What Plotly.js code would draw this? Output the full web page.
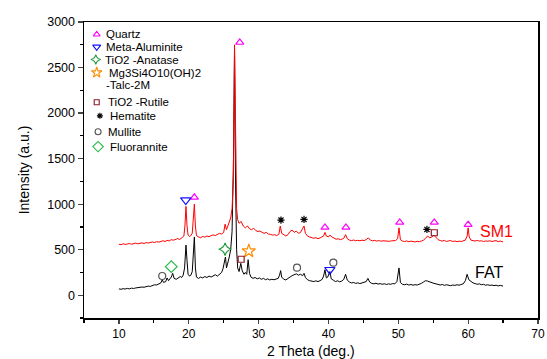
<!DOCTYPE html>
<html>
<head>
<meta charset="utf-8">
<script src="https://cdn.plot.ly/plotly-3.0.1.min.js"></script>
<style>html,body{margin:0;padding:0;background:#fff;}#chart{width:547px;height:359px;}</style>
</head>
<body>
<div id="chart"></div>
<script>
// ---- SM1 pattern (red) ----
const smX = [10,10.3,10.6,10.9,11.2,11.5,11.8,12.1,12.4,12.7,13.0,13.3,13.6,13.9,14.2,14.5,14.8,15.1,15.4,15.7,16.0,16.3,16.6,16.9,17.2,17.5,17.8,18.1,18.4,18.7,19.0,19.3,19.45,19.6,19.75,19.9,20.1,20.3,20.5,20.65,20.8,20.95,21.1,21.4,21.7,22.0,22.3,22.6,22.9,23.2,23.5,23.8,24.1,24.4,24.7,25.0,25.2,25.4,25.6,25.8,26.0,26.2,26.4,26.55,26.7,26.85,27.0,27.2,27.5,27.8,28.1,28.4,28.7,29.0,29.3,29.6,29.9,30.2,30.5,30.8,31.1,31.4,31.7,32.0,32.3,32.6,32.9,33.1,33.3,33.6,33.9,34.2,34.5,34.8,35.1,35.4,35.7,36.0,36.3,36.5,36.7,37.0,37.3,37.6,37.9,38.2,38.5,38.8,39.1,39.3,39.5,39.7,40.0,40.2,40.5,40.8,41.1,41.4,41.7,42.0,42.2,42.45,42.7,43.0,43.3,43.6,43.9,44.2,44.5,44.8,45.1,45.4,45.7,46.0,46.3,46.6,46.9,47.2,47.5,47.8,48.1,48.4,48.7,49.0,49.3,49.6,49.9,50.1,50.3,50.6,50.9,51.2,51.5,51.8,52.1,52.4,52.7,53.0,53.3,53.6,53.9,54.2,54.5,54.8,55.1,55.4,55.7,56.0,56.3,56.6,56.9,57.2,57.5,57.8,58.1,58.4,58.7,59.0,59.3,59.6,59.85,60.0,60.15,60.4,60.7,61.0,61.3,61.6,61.9,62.2,62.5,62.8,63.1,63.4,63.7,64.0,64.3,64.6,65.0];
const smY = [560,555,565,558,562,568,560,566,572,565,570,575,568,578,573,580,585,578,588,583,592,598,590,602,596,610,604,615,622,612,628,650,760,975,760,660,645,655,680,820,1000,760,655,640,632,645,638,650,643,655,662,655,670,680,672,690,780,720,760,800,850,950,1300,2750,1500,950,830,790,810,760,740,760,730,720,735,710,700,705,690,680,690,672,668,660,665,655,670,760,680,660,650,665,700,715,690,705,680,690,730,760,680,650,640,630,625,632,620,630,640,650,690,650,640,660,640,625,615,620,610,618,625,665,620,605,600,606,598,603,598,605,600,610,630,605,598,602,595,600,593,598,595,600,592,597,595,600,620,740,610,595,590,596,588,594,590,585,592,588,595,605,625,650,630,640,660,630,610,600,595,602,590,597,600,590,595,588,594,590,596,605,650,740,640,605,600,595,602,594,598,590,596,592,598,590,595,600,588,595,585];

// ---- FAT pattern (black) ----
const fatX = [10,10.3,10.6,10.9,11.2,11.5,11.8,12.1,12.4,12.7,13.0,13.3,13.6,13.9,14.2,14.5,14.8,15.1,15.4,15.7,16.0,16.2,16.4,16.7,16.9,17.1,17.3,17.5,17.7,17.9,18.2,18.5,18.8,19.0,19.2,19.4,19.6,19.75,19.9,20.1,20.3,20.5,20.65,20.8,20.95,21.1,21.4,21.7,22.0,22.3,22.6,22.9,23.2,23.5,23.8,24.1,24.4,24.7,24.9,25.1,25.25,25.4,25.6,25.8,26.0,26.2,26.4,26.55,26.7,26.85,27.0,27.2,27.45,27.65,27.9,28.1,28.3,28.5,28.7,28.9,29.2,29.5,29.8,30.1,30.4,30.7,31.0,31.3,31.6,31.9,32.2,32.5,32.8,33.0,33.15,33.3,33.6,33.9,34.2,34.5,34.8,35.1,35.4,35.7,36.0,36.3,36.5,36.7,37.0,37.3,37.6,37.9,38.2,38.5,38.8,39.1,39.3,39.5,39.7,39.9,40.2,40.4,40.7,41.0,41.3,41.6,41.9,42.2,42.45,42.7,43.0,43.3,43.6,43.9,44.2,44.5,44.8,45.1,45.4,45.65,45.9,46.2,46.5,46.8,47.1,47.4,47.7,48.0,48.3,48.6,48.9,49.2,49.5,49.8,50.1,50.3,50.6,50.9,51.2,51.5,51.8,52.1,52.4,52.7,53.0,53.3,53.6,53.9,54.2,54.5,54.8,55.1,55.4,55.7,56.0,56.3,56.6,56.9,57.2,57.5,57.8,58.1,58.4,58.7,59.0,59.3,59.6,59.85,60.1,60.4,60.7,61.0,61.3,61.6,61.9,62.2,62.5,62.8,63.1,63.4,63.7,64.0,64.3,64.6,65.0];
const fatY = [70,65,72,68,75,70,78,74,80,85,82,90,88,95,100,97,108,115,112,125,135,170,140,150,190,160,175,200,240,185,175,190,205,195,220,300,550,380,230,210,220,260,420,640,300,200,185,200,190,205,195,210,200,215,225,210,235,250,290,360,420,300,350,420,500,700,1500,2700,1200,500,300,260,350,270,230,250,230,390,240,200,185,195,180,190,175,185,170,180,168,175,170,178,185,220,270,200,175,168,180,200,215,225,235,220,230,215,240,195,170,160,155,150,158,150,160,175,210,280,190,200,260,180,165,150,158,148,155,175,230,165,145,135,140,130,136,128,135,140,150,185,145,130,125,132,122,128,120,126,118,125,120,128,125,150,300,140,120,115,122,112,118,110,116,112,120,130,145,160,155,145,140,130,125,118,112,118,108,115,110,105,112,108,115,110,118,125,160,230,170,150,135,128,120,125,115,120,110,115,108,112,105,110,102,108,100];

// ---- phase markers on peaks ----
const quartzX = [27.3, 20.8, 39.5, 42.5, 50.2, 55.15, 60.0];
const quartzY = [2775, 1075, 745, 745, 800, 800, 775];
const metaAlX = [19.57, 40.2];
const metaAlY = [1045, 280];
const anataseX = [25.2];
const anataseY = [505];
const talcX = [28.6];
const talcY = [485];
const rutileX = [27.5, 55.15];
const rutileY = [395, 686];
const hematiteX = [33.2, 36.5, 54.1];
const hematiteY = [825, 832, 722];
const mulliteX = [16.2, 35.5, 40.7];
const mulliteY = [211, 303, 358];
const fluoranniteX = [17.5];
const fluoranniteY = [314];

// ---- legend entries ----
const legendNames = ["Quartz", "Meta-Aluminite", "TiO2 -Anatase", "Mg3Si4O10(OH)2", "TiO2 -Rutile", "Hematite", "Mullite", "Fluorannite"];
const talcSecondLine = "-Talc-2M";
const seriesNames = ["SM1", "FAT"];

const styles = [
  {symbol: "triangle-up-open", color: "#ff00ff", size: 7, lsize: 6},
  {symbol: "triangle-down-open", color: "#1010ff", size: 9, lsize: 7},
  {symbol: "star-diamond-open", color: "#1f9a3a", size: 9, lsize: 7},
  {symbol: "star-open", color: "#ff8c00", size: 10, lsize: 8},
  {symbol: "square-open", color: "#8b1a2a", size: 6, lsize: 5},
  {symbol: "asterisk-open", color: "#000000", size: 6, lsize: 5},
  {symbol: "circle-open", color: "#555555", size: 7, lsize: 6},
  {symbol: "diamond-open", color: "#22bb44", size: 9, lsize: 8}
];
const phaseX = [quartzX, metaAlX, anataseX, talcX, rutileX, hematiteX, mulliteX, fluoranniteX];
const phaseY = [quartzY, metaAlY, anataseY, talcY, rutileY, hematiteY, mulliteY, fluoranniteY];

// legend layout (paper fractions)
const legMarkX = [0.028, 0.028, 0.026, 0.028, 0.028, 0.035, 0.031, 0.031];
const legTextX = [0.046, 0.046, 0.044, 0.052, 0.050, 0.056, 0.050, 0.054];
const legY = [0.958, 0.916, 0.873, 0.829, 0.729, 0.683, 0.629, 0.579];
const talcLine2Y = 0.7855;

const traces = [];
traces.push({x: fatX, y: fatY, mode: "lines", line: {color: "#000000", width: 1}, hoverinfo: "skip"});
traces.push({x: smX, y: smY, mode: "lines", line: {color: "#ff0000", width: 1}, hoverinfo: "skip"});
for (let i = 0; i < styles.length; i++) {
  const s = styles[i];
  traces.push({x: phaseX[i], y: phaseY[i], mode: "markers", cliponaxis: false,
    marker: {symbol: s.symbol, size: s.size, color: s.color, line: {color: s.color, width: 1.2}}});
  traces.push({x: [legMarkX[i]], y: [legY[i]], xaxis: "x2", yaxis: "y2", mode: "markers", cliponaxis: false,
    marker: {symbol: s.symbol, size: s.lsize, color: s.color, line: {color: s.color, width: 1.1}}});
}

const FONT = "Liberation Sans, Arial, sans-serif";
const LEGSIZE = 11.5;
const annotations = [];
for (let i = 0; i < legendNames.length; i++) {
  annotations.push({xref: "paper", yref: "paper", x: legTextX[i], y: legY[i], text: legendNames[i],
    showarrow: false, xanchor: "left", yanchor: "middle", borderpad: 0,
    font: {family: FONT, size: LEGSIZE, color: "#000"}});
}
annotations.push({xref: "paper", yref: "paper", x: 0.046, y: talcLine2Y, text: talcSecondLine,
  showarrow: false, xanchor: "left", yanchor: "middle", borderpad: 0,
  font: {family: FONT, size: LEGSIZE, color: "#000"}});
annotations.push({xref: "x", yref: "y", x: 64.1, y: 703, text: seriesNames[0], showarrow: false,
  xanchor: "center", yanchor: "middle", font: {family: FONT, size: 16, color: "#ff0000"}});
annotations.push({xref: "x", yref: "y", x: 62.95, y: 255, text: seriesNames[1], showarrow: false,
  xanchor: "center", yanchor: "middle", font: {family: FONT, size: 16, color: "#000000"}});
// x-axis title
annotations.push({xref: "paper", yref: "paper", x: 0.5, y: -0.11, text: "2 Theta (deg.)", showarrow: false,
  xanchor: "center", yanchor: "middle", borderpad: 0, font: {family: FONT, size: 14, color: "#000"}});

const layout = {
  width: 547, height: 359,
  margin: {l: 84, r: 9, t: 22, b: 41},
  paper_bgcolor: "#fff", plot_bgcolor: "#fff",
  showlegend: false,
  font: {family: FONT, color: "#000"},
  xaxis: {range: [5, 70], tick0: 10, dtick: 10, ticks: "outside", ticklen: 4, tickwidth: 1.3,
    showline: true, linewidth: 1.5, linecolor: "#000", mirror: true, showgrid: false, zeroline: false,
    minor: {dtick: 5, tick0: 5, ticks: "outside", ticklen: 3, tickwidth: 1.2, tickcolor: "#000", showgrid: false},
    tickfont: {family: FONT, size: 12, color: "#000"}},
  yaxis: {range: [-250, 3000], tick0: 0, dtick: 500, ticks: "outside", ticklen: 5, tickwidth: 1.3,
    showline: true, linewidth: 1.5, linecolor: "#000", mirror: true, showgrid: false, zeroline: false,
    minor: {dtick: 250, tick0: 0, ticks: "outside", ticklen: 3, tickwidth: 1.2, tickcolor: "#000", showgrid: false},
    tickfont: {family: FONT, size: 12.5, color: "#000"},
    title: {text: "Intensity (a.u.)", font: {family: FONT, size: 14, color: "#000"}, standoff: 14}},
  xaxis2: {overlaying: "x", range: [0, 1], visible: false, fixedrange: true},
  yaxis2: {overlaying: "y", range: [0, 1], visible: false, fixedrange: true},
  annotations: annotations
};

Plotly.newPlot("chart", traces, layout, {staticPlot: true, displayModeBar: false});
</script>
</body>
</html>
